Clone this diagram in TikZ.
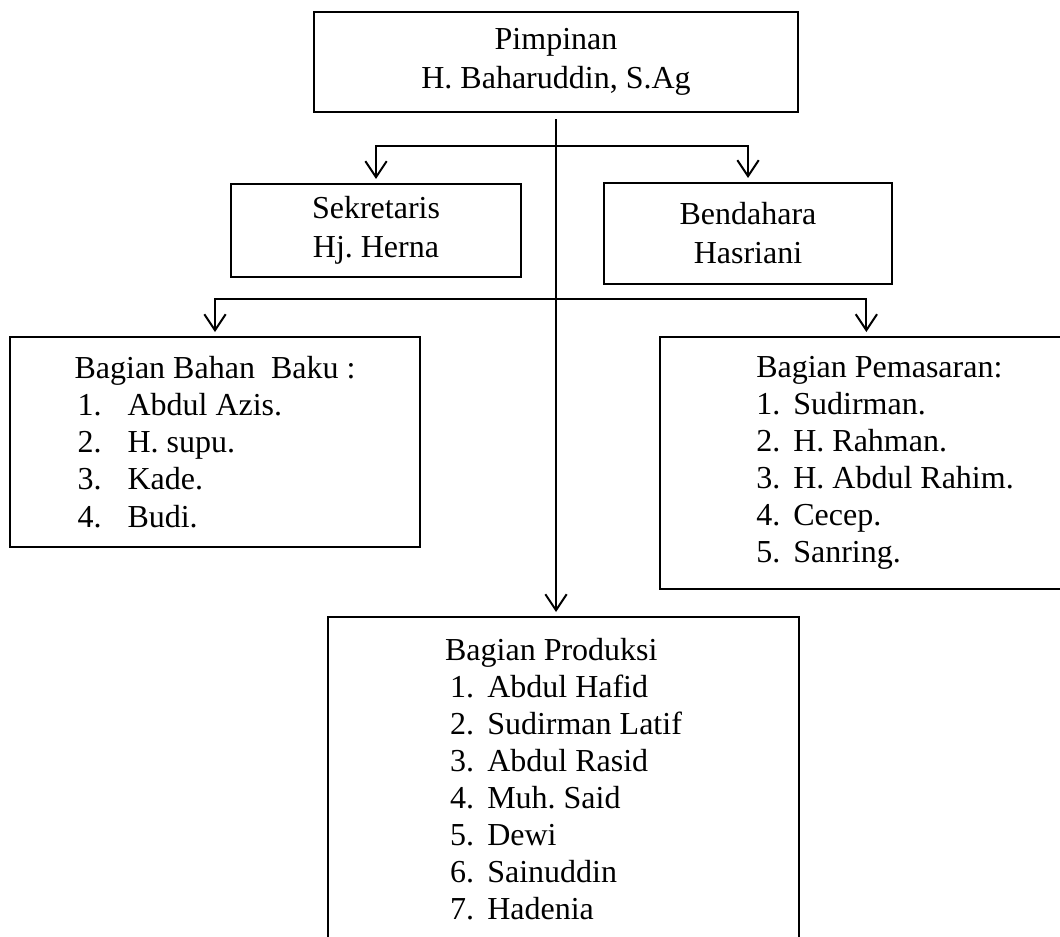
\documentclass[tikz,border=0pt]{standalone}
\usepackage{fontspec}
\setmainfont{Liberation Serif}
\usetikzlibrary{arrows.meta}

\newcommand{\butir}[3][13.9pt]{\makebox[#1][l]{#2.}#3}

\begin{document}
\frenchspacing
\begin{tikzpicture}[
        x=0.375pt, y=-0.375pt,
        kotak/.style={draw, line width=0.75pt, inner sep=0pt, align=left, font=\fontsize{12}{13.9}\selectfont},
        kotakjabatan/.style={kotak, align=center, font=\fontsize{12}{14.6}\selectfont},
        kotakutama/.style={kotakjabatan, line width=1.05pt},
        panah/.style={-{Straight Barb[length=6pt, width=8pt]}, line width=0.75pt, shorten >=1.5pt}
      ]
        \useasboundingbox (0,0) rectangle (1060,936);
        \clip (0,0) rectangle (1060,936);

        \node[kotakutama, minimum width=181.5pt, minimum height=37.5pt] (pimpinan) at (556,62) {Pimpinan\\H. Baharuddin, S.Ag};
        \node[kotakjabatan, minimum width=108.75pt, minimum height=34.9pt] (sekretaris) at (376,230.5) {Sekretaris\\Hj. Herna};
        \node[kotakjabatan, minimum width=108pt, minimum height=37.9pt] (bendahara) at (748,233.5) {Bendahara\\Hasriani};
        \node[kotak, minimum width=153.75pt, minimum height=78.75pt] (bahanbaku) at (215,442) {Bagian Bahan\ \ Baku :\\
          \hspace*{1.1pt}\butir[18.75pt]{1}{Abdul Azis.}\\
          \hspace*{1.1pt}\butir[18.75pt]{2}{H. supu.}\\
          \hspace*{1.1pt}\butir[18.75pt]{3}{Kade.}\\
          \hspace*{1.1pt}\butir[18.75pt]{4}{Budi.}};
        \node[kotak, minimum width=168.75pt, minimum height=94.5pt] (pemasaran) at (885,463) {Bagian Pemasaran:\\
          \butir{1}{Sudirman.}\\
          \butir{2}{H. Rahman.}\\
          \butir{3}{H. Abdul Rahim.}\\
          \butir{4}{Cecep.}\\
          \butir{5}{Sanring.}};
        \node[kotak, minimum width=176.6pt, minimum height=121.5pt] (produksi) at (563.5,779) {Bagian Produksi\\
          \hspace*{1.9pt}\butir{1}{Abdul Hafid}\\
          \hspace*{1.9pt}\butir{2}{Sudirman Latif}\\
          \hspace*{1.9pt}\butir{3}{Abdul Rasid}\\
          \hspace*{1.9pt}\butir{4}{Muh. Said}\\
          \hspace*{1.9pt}\butir{5}{Dewi}\\
          \hspace*{1.9pt}\butir{6}{Sainuddin}\\
          \hspace*{1.9pt}\butir{7}{Hadenia}};

        \coordinate (cabangatas) at (pimpinan.south |- 0,146);
        \coordinate (cabangbawah) at (pimpinan.south |- 0,299);

        \draw[panah] ([yshift=-2.25pt]pimpinan.south) -- (pimpinan.south |- produksi.north);
        \draw[panah] (cabangatas) -| (sekretaris.north);
        \draw[panah] (cabangatas) -| (bendahara.north);
        \draw[panah] (cabangbawah) -| (bahanbaku.north);
        \draw[panah] (cabangbawah) -| ([xshift=-7pt]pemasaran.north);
      \end{tikzpicture}
\end{document}
